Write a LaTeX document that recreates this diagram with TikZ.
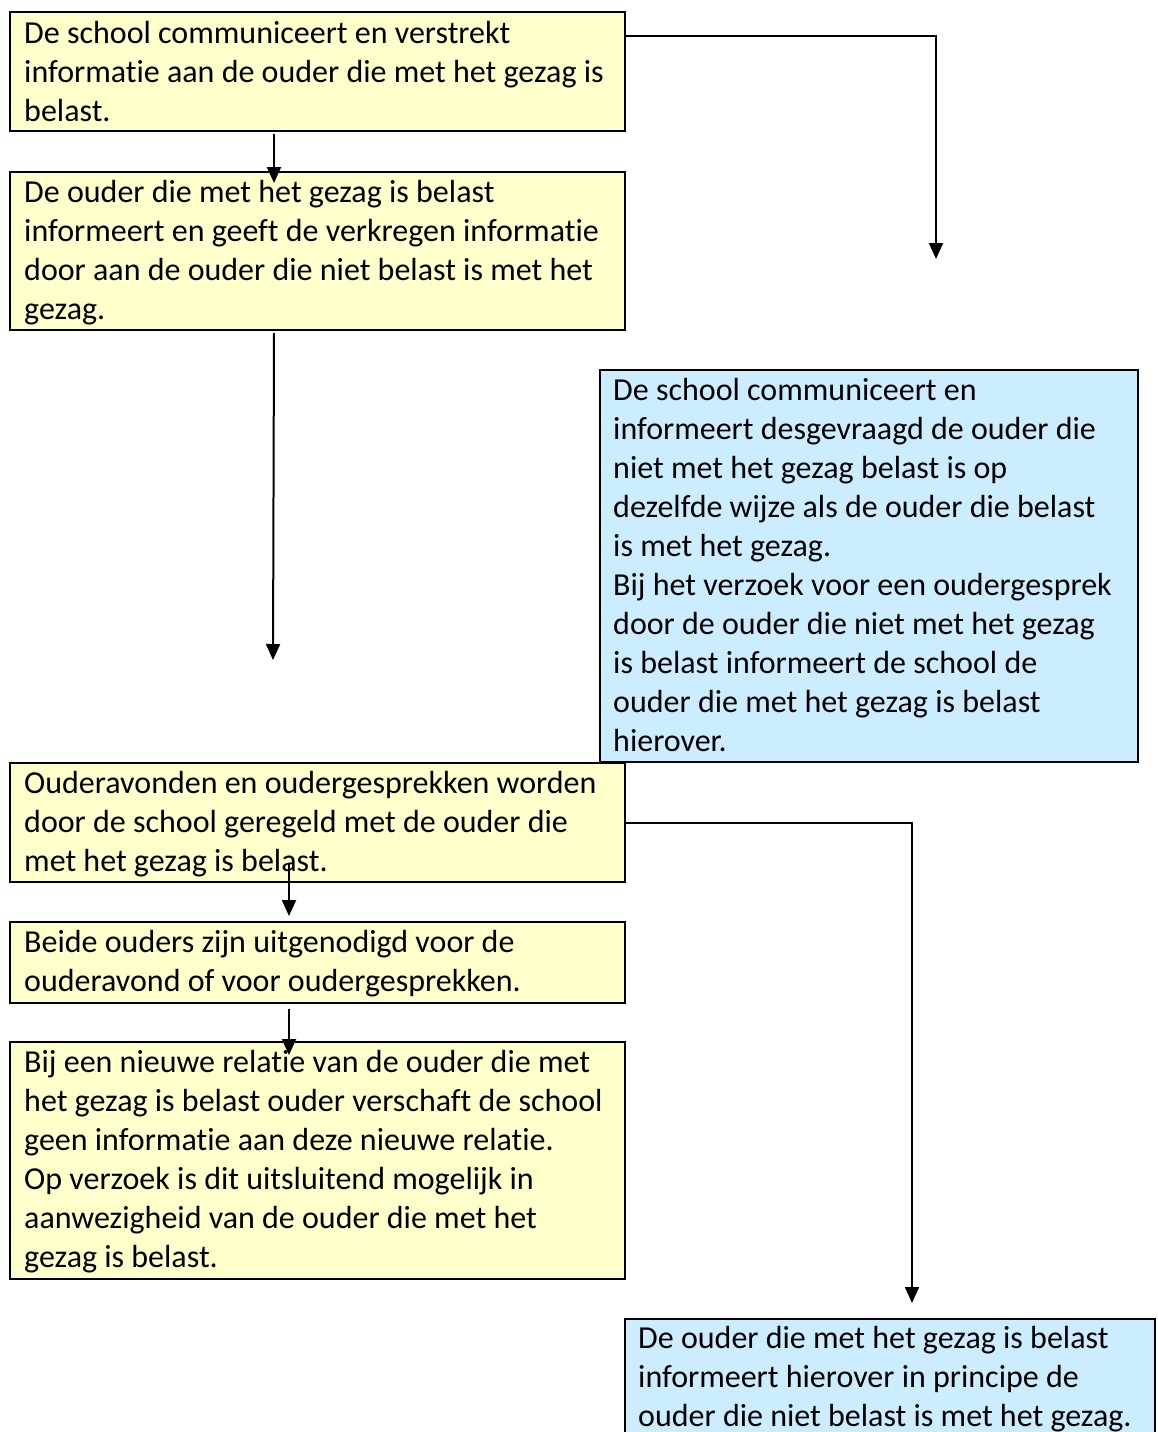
\documentclass[tikz,border=0pt]{standalone}
\usepackage{fontspec}
\setmainfont{Carlito}[Ligatures=NoCommon]
\usetikzlibrary{arrows.meta}
\definecolor{ylw}{HTML}{FFFFCC}
\definecolor{blu}{HTML}{CCECFF}
\newcommand{\boxtext}[1]{\parbox[t]{700pt}{\fontsize{32}{39}\selectfont #1}}
\tikzset{
  ybox/.style={draw=black, line width=2pt, fill=ylw, rectangle, inner sep=0pt, anchor=north west},
  bbox/.style={draw=black, line width=2pt, fill=blu, rectangle, inner sep=0pt, anchor=north west},
  txt/.style={anchor=base west, inner sep=0pt, text=black},
  conn/.style={draw=black, line width=2pt, -{Triangle[length=16pt,width=14pt]}}
}
\begin{document}
\begin{tikzpicture}[x=1pt,y=-1pt]
\useasboundingbox (0,0) rectangle (1157,1432);
\clip (0,0) rectangle (1157,1432);
\fill[white] (0,0) rectangle (1157,1432);

% boxes
\node[ybox, minimum width=615pt, minimum height=119pt] (b1) at (9,11) {};
\node[ybox, minimum width=615pt, minimum height=158pt] (b2) at (9,171) {};
\node[bbox, minimum width=538pt, minimum height=392pt] (b3) at (599,369) {};
\node[ybox, minimum width=615pt, minimum height=119pt] (b4) at (9,762) {};
\node[ybox, minimum width=615pt, minimum height=81pt] (b5) at (9,921) {};
\node[ybox, minimum width=615pt, minimum height=237pt] (b6) at (9,1041) {};
\node[bbox, minimum width=530pt, minimum height=160pt] (b7) at (624,1318) {};

% texts
\node[txt] (t1) at (24,43) {\boxtext{De school communiceert en verstrekt\\informatie aan de ouder die met het gezag is\\belast.}};
\node[txt] (t2) at (24,202) {\boxtext{De ouder die met het gezag is belast\\informeert en geeft de verkregen informatie\\door aan de ouder die niet belast is met het\\gezag.}};
\node[txt] (t3) at (613,400) {\boxtext{De school communiceert en\\informeert desgevraagd de ouder die\\niet met het gezag belast is op\\dezelfde wijze als de ouder die belast\\is met het gezag.\\Bij het verzoek voor een oudergesprek\\door de ouder die niet met het gezag\\is belast informeert de school de\\ouder die met het gezag is belast\\hierover.}};
\node[txt] (t4) at (24,793) {\boxtext{Ouderavonden en oudergesprekken worden\\door de school geregeld met de ouder die\\met het gezag is belast.}};
\node[txt] (t5) at (24,952) {\boxtext{Beide ouders zijn uitgenodigd voor de\\ouderavond of voor oudergesprekken.}};
\node[txt] (t6) at (24,1072) {\boxtext{Bij een nieuwe relatie van de ouder die met\\het gezag is belast ouder verschaft de school\\geen informatie aan deze nieuwe relatie.\\Op verzoek is dit uitsluitend mogelijk in\\aanwezigheid van de ouder die met het\\gezag is belast.}};
\node[txt] (t7) at (638,1348) {\boxtext{De ouder die met het gezag is belast\\informeert hierover in principe de\\ouder die niet belast is met het gezag.}};

% free ends
\coordinate (c1) at (936,259);
\coordinate (c2) at (273,660);
\coordinate (c3) at (912,1303);

% connectors
\draw[conn] ([xshift=-43.5pt,yshift=-2pt]b1.south) -- ([xshift=-43.5pt,yshift=-12pt]b2.north);
\draw[conn] ([yshift=35.5pt]b1.east) -| (c1);
\draw[conn] ([xshift=-43.5pt,yshift=-2pt]b2.south) -- (c2);
\draw[conn] (b4.east) -| (c3);
\draw[conn] ([xshift=-28.5pt,yshift=19pt]b4.south) -- ([xshift=-28.5pt,yshift=5pt]b5.north);
\draw[conn] ([xshift=-28.5pt,yshift=-5pt]b5.south) -- ([xshift=-28.5pt,yshift=-14pt]b6.north);
\end{tikzpicture}
\end{document}
